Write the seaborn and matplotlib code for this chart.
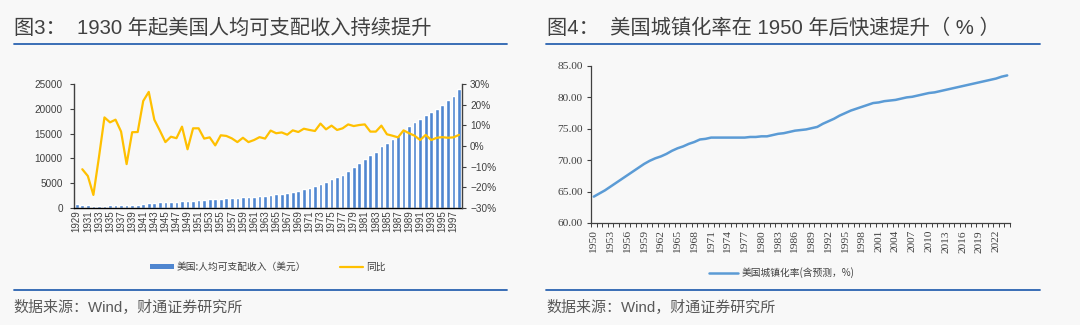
import numpy as np
import pandas as pd
import matplotlib
matplotlib.use("Agg")
import matplotlib.pyplot as plt
import seaborn as sns
from matplotlib.lines import Line2D
from matplotlib.patches import Patch
from matplotlib.ticker import FuncFormatter, FixedLocator

# ---------------- data ----------------
income_years = list(range(1929, 1999))
income = [683, 605, 523, 411, 386, 430, 476, 535, 568, 522,
          555, 594, 725, 913, 1031, 1114, 1135, 1184, 1239, 1348,
          1327, 1445, 1567, 1624, 1701, 1708, 1795, 1882, 1954, 1996,
          2077, 2120, 2178, 2276, 2359, 2526, 2688, 2864, 3022, 3243,
          3450, 3738, 4027, 4323, 4794, 5216, 5714, 6163, 6710, 7441,
          8201, 9020, 9963, 10641, 11345, 12483, 13194, 13839, 14485, 15562,
          16531, 17374, 17870, 18841, 19354, 20049, 20891, 21723, 22638, 24000]
yoy = [np.nan, -11.3, -14.6, -23.8, -5.5, 13.9, 11.5, 12.8, 7.0, -8.8,
       6.7, 6.8, 21.9, 26.3, 12.8, 7.5, 1.9, 4.5, 3.8, 9.4,
       -1.6, 8.6, 8.6, 3.6, 4.2, 0.3, 5.2, 4.9, 3.7, 1.9,
       4.0, 1.9, 2.9, 4.3, 3.6, 7.5, 6.2, 6.6, 5.5, 7.6,
       6.8, 8.4, 7.8, 7.3, 10.9, 8.1, 9.9, 7.8, 8.6, 10.5,
       9.7, 10.2, 10.5, 7.0, 7.0, 9.9, 5.7, 5.0, 4.2, 7.6,
       6.2, 5.0, 2.9, 5.4, 2.9, 4.0, 4.3, 4.0, 4.2, 5.4]

urban_years = list(range(1950, 2025))
urban = [64.2, 64.7, 65.2, 65.8, 66.4, 67.0, 67.6, 68.2, 68.8, 69.4,
         69.9, 70.3, 70.6, 71.0, 71.5, 71.9, 72.2, 72.6, 72.9, 73.3,
         73.4, 73.6, 73.6, 73.6, 73.6, 73.6, 73.6, 73.6, 73.7, 73.7,
         73.8, 73.8, 74.0, 74.2, 74.3, 74.5, 74.7, 74.8, 74.9, 75.1,
         75.3, 75.8, 76.2, 76.6, 77.1, 77.5, 77.9, 78.2, 78.5, 78.8,
         79.1, 79.2, 79.4, 79.5, 79.6, 79.8, 80.0, 80.1, 80.3, 80.5,
         80.7, 80.8, 81.0, 81.2, 81.4, 81.6, 81.8, 82.0, 82.2, 82.4,
         82.6, 82.8, 83.0, 83.3, 83.5]

title_left = "图3：  1930 年起美国人均可支配收入持续提升"
title_right = "图4：  美国城镇化率在 1950 年后快速提升（ % ）"
source_text = "数据来源：Wind，财通证券研究所"
bar_label = "美国:人均可支配收入（美元）"
yoy_label = "同比"
urban_label = "美国城镇化率(含预测，%)"

# ---------------- style ----------------
sns.set_theme(style="white")
plt.rcParams["font.family"] = ["Liberation Sans", "Noto Sans CJK SC", "DejaVu Sans"]
plt.rcParams["axes.unicode_minus"] = True

BG = "#f8f8f8"
BAR_C = "#4f86d0"
YEL_C = "#ffc000"
LINE_C = "#5b9bd5"
RULE_C = "#2a63b0"
TXT_C = "#404040"
CJK = ["Noto Sans CJK SC", "DejaVu Sans"]
TXT_FAM = ["Liberation Sans", "Noto Sans CJK SC", "DejaVu Sans"]

W, H = 1080, 325
fig = plt.figure(figsize=(W / 100, H / 100), dpi=100, facecolor=BG)


def rect(l, t, r, b):
    return [l / W, 1 - b / H, (r - l) / W, (b - t) / H]


# ---------------- left chart ----------------
df1 = pd.DataFrame({"year": income_years, "income": income, "yoy": yoy})
ax1 = fig.add_axes(rect(74, 84.3, 461.7, 207.7))
ax1.set_facecolor(BG)
sns.barplot(data=df1, x="year", y="income", native_scale=True, color=BAR_C,
            saturation=1, width=0.66, ax=ax1, errorbar=None)
ax1.set_xlim(1928.5, 1998.5)
ax1.set_ylim(0, 25000)
ax1.set_yticks(range(0, 25001, 5000))
ax1.set_xticks(income_years[::2])
ax1.set_xticklabels([str(y) for y in income_years[::2]], rotation=90)
ax1.tick_params(axis="x", labelsize=7, length=0, pad=2, colors=TXT_C)
ax1.tick_params(axis="y", labelsize=7.2, length=3, width=0.8, pad=5,
                colors=TXT_C, left=True)
ax1.set_xlabel("")
ax1.set_ylabel("")
for s in ["top", "right"]:
    ax1.spines[s].set_visible(False)
ax1.spines["left"].set_color("#404040")
ax1.spines["left"].set_linewidth(1.0)
ax1.spines["bottom"].set_color("#000000")
ax1.spines["bottom"].set_linewidth(1.0)

ax2 = ax1.twinx()
sns.lineplot(data=df1, x="year", y="yoy", color=YEL_C, linewidth=1.6,
             ax=ax2, legend=False)
ax2.set_ylim(-30, 30)
ax2.set_yticks(range(-30, 31, 10))
ax2.yaxis.set_major_formatter(FuncFormatter(lambda v, p: f"{v:.0f}%".replace("-", "\u2212")))
ax2.tick_params(axis="y", labelsize=7.2, length=3, width=0.8, pad=3,
                colors=TXT_C, right=True)
ax2.set_ylabel("")
ax2.set_xlabel("")
for s in ["top", "left", "bottom"]:
    ax2.spines[s].set_visible(False)
ax2.spines["right"].set_color("#404040")
ax2.spines["right"].set_linewidth(1.0)

handles1 = [Patch(facecolor=BAR_C, edgecolor="none"),
            Line2D([], [], color=YEL_C, linewidth=1.6)]
leg1 = fig.legend(handles1, [bar_label, yoy_label], loc="center",
                  bbox_to_anchor=(268 / W, 1 - 267 / H), ncol=2, frameon=False,
                  prop={"family": CJK, "size": 7}, handlelength=2.4,
                  handleheight=0.45, columnspacing=3.5, handletextpad=0.3)
for t in leg1.get_texts():
    t.set_color(TXT_C)

# ---------------- right chart ----------------
df2 = pd.DataFrame({"year": urban_years, "urban": urban})
ax3 = fig.add_axes(rect(591, 66, 1010, 223))
ax3.set_facecolor(BG)
sns.lineplot(data=df2, x="year", y="urban", color=LINE_C, linewidth=1.8,
             ax=ax3, legend=False)
ax3.set_xlim(urban_years[0] - 0.5, urban_years[-1] + 0.5)
ax3.set_ylim(60, 85)
ax3.set_yticks(range(60, 86, 5))
ax3.yaxis.set_major_formatter(FuncFormatter(lambda v, p: f"{v:.2f}"))
ax3.set_xticks(urban_years[::3])
ax3.set_xticklabels([str(y) for y in urban_years[::3]], rotation=90)
ax3.xaxis.set_minor_locator(FixedLocator(np.arange(urban_years[0] - 0.5, urban_years[-1] + 1, 1)))
ax3.tick_params(axis="x", which="major", length=0, pad=5, labelsize=8.2, colors=TXT_C)
ax3.tick_params(axis="x", which="minor", length=3, width=0.7, color="#404040", bottom=True)
ax3.tick_params(axis="y", length=3, width=0.8, pad=3, labelsize=8.2, colors=TXT_C, left=True)
for lab in ax3.get_xticklabels() + ax3.get_yticklabels():
    lab.set_family("Liberation Serif")
ax3.set_xlabel("")
ax3.set_ylabel("")
for s in ["top", "right"]:
    ax3.spines[s].set_visible(False)
for s in ["left", "bottom"]:
    ax3.spines[s].set_color("#404040")
    ax3.spines[s].set_linewidth(0.9)

leg2 = fig.legend([Line2D([], [], color=LINE_C, linewidth=1.8)], [urban_label],
                  loc="center", bbox_to_anchor=(782 / W, 1 - 273 / H), frameon=False,
                  prop={"family": CJK, "size": 7}, handlelength=3.0, handletextpad=0.4)
for t in leg2.get_texts():
    t.set_color(TXT_C)

# ---------------- titles, rules, sources ----------------
fig.text(14 / W, 1 - 28 / H, title_left, fontsize=14.6, color=TXT_C, va="center",
         ha="left", family=TXT_FAM)
fig.text(547 / W, 1 - 28 / H, title_right, fontsize=14.6, color=TXT_C, va="center",
         ha="left", family=TXT_FAM)
for x0, x1 in [(14, 507), (546, 1040)]:
    for yy in (43.5, 289.5):
        fig.add_artist(Line2D([x0 / W, x1 / W], [1 - yy / H] * 2,
                              color=RULE_C, linewidth=1.3))
fig.text(13 / W, 1 - 307 / H, source_text, fontsize=10.8, color="#595959",
         va="center", ha="left", family=TXT_FAM)
fig.text(546 / W, 1 - 307 / H, source_text, fontsize=10.8, color="#595959",
         va="center", ha="left", family=TXT_FAM)

fig.savefig("out.png", dpi=100, facecolor=BG)
